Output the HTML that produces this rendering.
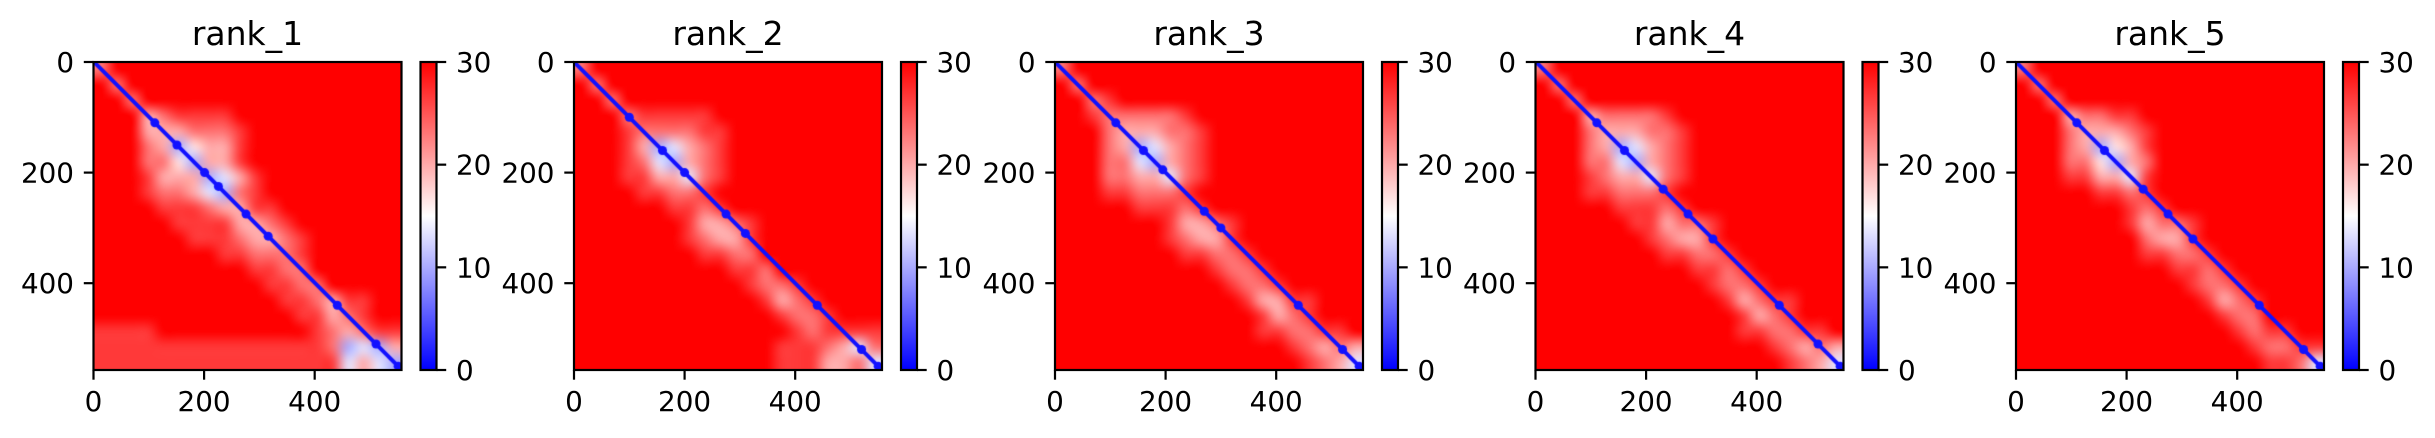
<!DOCTYPE html>
<html><head><meta charset="utf-8">
<style>
html,body{margin:0;padding:0;background:#fff;}
#fig{position:relative;width:2435px;height:438px;overflow:hidden;}
canvas{position:absolute;}
svg{position:absolute;left:0;top:0;}
text{font-family:"DejaVu Sans","Liberation Sans",sans-serif;fill:#000;}
</style></head>
<body>
<div id="fig">
<svg id="ov" width="2435" height="438"></svg>
</div>
<script>
// ---- data ----
const panelTitles = ["rank_1","rank_2","rank_3","rank_4","rank_5"];
const nResidues = 557;
const xTicks = [0,200,400];
const yTicks = [0,200,400];
const cbTicks = [0,10,20,30];
const cbMax = 30;
// coarse PAE grids (digit d -> value d*30/9), 20x20 per panel
const grid1 = [
"79999999999999999999",
"97999999999999999999",
"99799999999999999999",
"99967888899999999999",
"99966677789999999999",
"99976356689999999999",
"99977536689999999999",
"99986663468999999999",
"99987764378999999999",
"99998887668899999999",
"99999888866789999999",
"99999988876678999999",
"99999999887778999999",
"99999999998877999999",
"99999999999887799999",
"99999999999988768899",
"99999999999998867899",
"88889999999999876788",
"88888888888888873436",
"88888888888888884643"];
const grid2 = [
"79999999999999999999",
"97999999999999999999",
"99799999999999999999",
"99978888899999999999",
"99987777889999999999",
"99986346789999999999",
"99987436789999999999",
"99988664789999999999",
"99998877899999999999",
"99999988789999999999",
"99999998667899999999",
"99999998766899999999",
"99999999887799999999",
"99999999998879999999",
"99999999999877899999",
"99999999999986789999",
"99999999999998778999",
"99999999999999878888",
"99999999999998887647",
"99999999999998886674"];
const grid3 = [
"79999999999999999999",
"97999999999999999999",
"99789999999999999999",
"99877777899999999999",
"99976667789999999999",
"99976346789999999999",
"99977436789999999999",
"99977664789999999999",
"99988777899999999999",
"99999888789999999999",
"99999998667899999999",
"99999998766899999999",
"99999999887789999999",
"99999999998778999999",
"99999999999877899999",
"99999999999986688999",
"99999999999998678999",
"99999999999998877889",
"99999999999999987676",
"99999999999999998764"];
const grid4 = [
"79999999999999999999",
"97999999999999999999",
"99799999999999999999",
"99967777899999999999",
"99976667789999999999",
"99976346789999999999",
"99977436789999999999",
"99987664789999999999",
"99988777899999999999",
"99999888789999999999",
"99999988677899999999",
"99999998766899999999",
"99999999887789999999",
"99999999998878999999",
"99999999999877899999",
"99999999999986788999",
"99999999999998678999",
"99999999999998877889",
"99999999999999987676",
"99999999999999998764"];
const grid5 = [
"79999999999999999999",
"97999999999999999999",
"99799999999999999999",
"99967788999999999999",
"99976667899999999999",
"99976356899999999999",
"99977536799999999999",
"99988664899999999999",
"99999887899999999999",
"99999998789999999999",
"99999998677899999999",
"99999999766899999999",
"99999999887789999999",
"99999999998878999999",
"99999999999877899999",
"99999999999986789999",
"99999999999998779999",
"99999999999999878899",
"99999999999999987788",
"99999999999999998874"];
const grids = [grid1,grid2,grid3,grid4,grid5];
// diagonal PAE and low-error spots along the diagonal (residue index)
const diagPae = [1,1,1,1,1];
const spots1 = [110,150,200,225,275,315,440,510,550];
const spots2 = [100,160,200,275,310,440,520,550];
const spots3 = [110,160,195,270,300,440,520,550];
const spots4 = [110,160,230,275,320,440,510,550];
const spots5 = [110,160,230,275,320,440,520,550];
const spotsAll = [spots1,spots2,spots3,spots4,spots5];

// ---- layout ----
const panelLeft = [93.5,574,1055,1535.5,2016];
const axTop = 62, axSize = 308, cbGap = 327, cbW = 16;
const NS = "http://www.w3.org/2000/svg";
const fig = document.getElementById('fig');
const ov = document.getElementById('ov');

function cmap(v){
  let t = Math.max(0,Math.min(1,v/cbMax));
  if(t<0.5){const k=t/0.5;return [Math.round(255*k),Math.round(255*k),255];}
  const k=(t-0.5)/0.5;return [255,Math.round(255*(1-k)),Math.round(255*(1-k))];
}
function rgb(c){return `rgb(${c[0]},${c[1]},${c[2]})`;}
function mk(tag,attrs,parent){const e=document.createElementNS(NS,tag);for(const k in attrs)e.setAttribute(k,attrs[k]);(parent||ov).appendChild(e);return e;}

panelTitles.forEach((title,p)=>{
  const L = panelLeft[p];
  const sx = v => L + v*axSize/nResidues;
  const sy = v => axTop + v*axSize/nResidues;
  // heatmap
  const g = grids[p];
  const n = g.length;
  const small = document.createElement('canvas');
  small.width=n; small.height=n;
  const sctx = small.getContext('2d');
  const img = sctx.createImageData(n,n);
  for(let r=0;r<n;r++)for(let c=0;c<n;c++){
    const val = (+g[r][c])*30/9;
    const col = cmap(val);
    const i=(r*n+c)*4;
    img.data[i]=col[0];img.data[i+1]=col[1];img.data[i+2]=col[2];img.data[i+3]=255;
  }
  sctx.putImageData(img,0,0);
  const cv = document.createElement('canvas');
  cv.width=axSize; cv.height=axSize;
  cv.style.left=L+'px'; cv.style.top=axTop+'px';
  
  
  const ctx = cv.getContext('2d');
  ctx.imageSmoothingEnabled = true;
  ctx.imageSmoothingQuality = 'high';
  ctx.drawImage(small,0,0,axSize,axSize);
  // diagonal
  const dc = rgb(cmap(diagPae[p]));
  ctx.strokeStyle = dc; ctx.lineWidth = 4;
  ctx.beginPath(); ctx.moveTo(0,0);
  ctx.lineTo(axSize,axSize); ctx.stroke();
  ctx.fillStyle = dc;
  spotsAll[p].forEach(s=>{
    const q = s*axSize/nResidues;
    ctx.beginPath(); ctx.arc(q,q,4.5,0,Math.PI*2); ctx.fill();
  });
  fig.insertBefore(cv, ov);

  // axes frame
  const frame = mk('rect',{x:L,y:axTop,width:axSize,height:axSize,fill:'none',stroke:'#000','stroke-width':2.2});
  
  
  // title
  const t = mk('text',{x:L+axSize/2,y:45,'text-anchor':'middle','font-size':33});
  t.textContent = title;
  
  
  // x ticks
  xTicks.forEach(v=>{
    const x = sx(v);
    const tk = mk('line',{x1:x,x2:x,y1:axTop+axSize,y2:axTop+axSize+9.7,stroke:'#000','stroke-width':2.2});
    
    
    const lb = mk('text',{x:x,y:411,'text-anchor':'middle','font-size':27.8});
    lb.textContent = v;
    
    
  });
  // y ticks
  yTicks.forEach(v=>{
    const y = sy(v);
    const tk = mk('line',{x1:L-9.7,x2:L,y1:y,y2:y,stroke:'#000','stroke-width':2.2});
    
    
    const lb = mk('text',{x:L-19.5,y:y+10,'text-anchor':'end','font-size':27.8});
    lb.textContent = v;
    
    
  });
  // colorbar
  const cbx = L + cbGap;
  const gid = 'cbg'+p;
  const defs = mk('defs',{});
  const lg = mk('linearGradient',{id:gid,x1:0,y1:1,x2:0,y2:0},defs);
  mk('stop',{offset:'0',  'stop-color':rgb(cmap(0))},lg);
  mk('stop',{offset:'0.5','stop-color':rgb(cmap(cbMax/2))},lg);
  mk('stop',{offset:'1',  'stop-color':rgb(cmap(cbMax))},lg);
  const cb = mk('rect',{x:cbx,y:axTop,width:cbW,height:axSize,fill:`url(#${gid})`,stroke:'#000','stroke-width':2.2});
  
  
  cbTicks.forEach(v=>{
    const y = axTop + axSize - v/cbMax*axSize;
    const tk = mk('line',{x1:cbx+cbW,x2:cbx+cbW+9.7,y1:y,y2:y,stroke:'#000','stroke-width':2.2});
    
    
    const lb = mk('text',{x:cbx+cbW+19.5,y:y+10,'text-anchor':'start','font-size':27.8});
    lb.textContent = v;
    
    
  });
});
</script>
</body></html>
